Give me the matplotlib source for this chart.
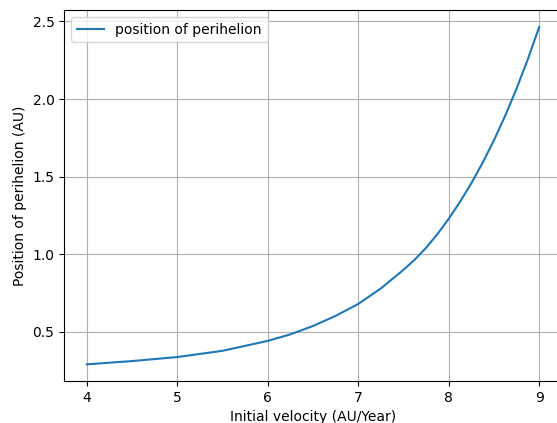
import matplotlib
matplotlib.use("Agg")
import matplotlib.pyplot as plt

# initial velocity (AU/Year) vs position of perihelion (AU)
velocity = [4.0, 4.5, 5.0, 5.5, 6.0, 6.25, 6.5, 6.75, 7.0, 7.25, 7.5, 7.625,
            7.75, 7.875, 8.0, 8.125, 8.25, 8.375, 8.5, 8.625, 8.75, 8.875, 9.0]
perihelion = [0.291, 0.312, 0.338, 0.378, 0.442, 0.484, 0.538, 0.603, 0.680,
              0.780, 0.900, 0.966, 1.042, 1.130, 1.229, 1.338, 1.458, 1.590,
              1.735, 1.894, 2.068, 2.258, 2.465]

fig = plt.figure(figsize=(5.57, 4.23), dpi=100)
ax = fig.add_axes([0.1151, 0.0988, 0.8936, 0.8775])

ax.plot(velocity, perihelion, label="position of perihelion")
ax.set_xlabel("Initial velocity (AU/Year)")
ax.set_ylabel("Position of perihelion (AU)")
ax.set_yticks([0.5, 1.0, 1.5, 2.0, 2.5])
ax.grid(True)
ax.legend(loc="upper left")

fig.savefig("out.png", dpi=100)
